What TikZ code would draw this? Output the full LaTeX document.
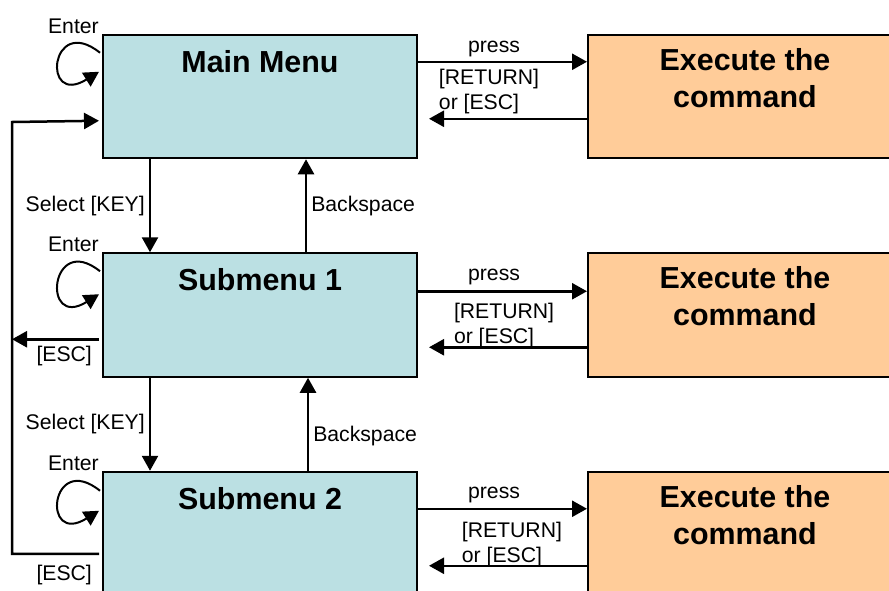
\documentclass[tikz,border=0pt]{standalone}
\usepackage{fontspec}
\setmainfont{Liberation Sans}
\usetikzlibrary{arrows.meta,positioning}
\definecolor{menublue}{RGB}{187,224,227}
\definecolor{cmdorange}{RGB}{255,204,153}
\tikzset{
  menubox/.style = {draw=black, fill=menublue, line width=1pt,
    minimum width=157pt, minimum height=61.75pt, inner sep=0pt},
  cmdbox/.style = {menubox, fill=cmdorange},% command box
  boxtitle/.style = {align=center, inner sep=0pt,
    font=\fontsize{15.2}{18.5}\selectfont\bfseries},
  keylabel/.style = {inner sep=2pt, font=\fontsize{10.6}{12.5}\selectfont},
  retlabel/.style = {keylabel, align=left},
  enterloop/.style = {line width=1pt}
}

\begin{document}
\begin{tikzpicture}[x=0.5pt, y=-0.5pt, ->, >={Triangle[length=7.5pt,width=8pt]},
    line width=1.25pt]
  \useasboundingbox (0,0) rectangle (889,590);
  \clip (0,0) rectangle (889,590);
  % boxes
  \node [menubox] (main) at (260,96.5) {};
  \node [menubox] (sub1) at (260,315) {};
  \node [menubox] (sub2) at (260,533.5) {};
  \node [cmdbox] (exec1) at (745,96.5) {};
  \node [cmdbox] (exec2) at (745,315) {};
  \node [cmdbox] (exec3) at (745,533.5) {};
  \node [boxtitle, below=7.5pt of main.north] (mainT) {Main Menu};
  \node [boxtitle, below=7.5pt of sub1.north] (sub1T) {Submenu 1};
  \node [boxtitle, below=7.5pt of sub2.north] (sub2T) {Submenu 2};
  \node [boxtitle, below=6.5pt of exec1.north] (exec1T) {Execute the\\command};
  \node [boxtitle, below=6.5pt of exec2.north] (exec2T) {Execute the\\command};
  \node [boxtitle, below=6.5pt of exec3.north] (exec3T) {Execute the\\command};
  % Enter loops
  \node [keylabel, inner sep=1pt, anchor=south east] (mainE) at ([yshift=-1.5pt]main.north west) {Enter};
  \node [keylabel, inner sep=1pt, anchor=south east] (sub1E) at ([yshift=-1.5pt]sub1.north west) {Enter};
  \node [keylabel, inner sep=1pt, anchor=south east] (sub2E) at ([yshift=-1.5pt]sub2.north west) {Enter};
  \draw [enterloop] ([shift={(-2,19)}]main.north west) .. controls +(-50,-40) and +(-58,36) .. ([shift={(-3,38)}]main.north west);
  \draw [enterloop] ([shift={(-2,19)}]sub1.north west) .. controls +(-50,-40) and +(-58,36) .. ([shift={(-3,42)}]sub1.north west);
  \draw [enterloop] ([shift={(-2,20)}]sub2.north west) .. controls +(-50,-40) and +(-58,36) .. ([shift={(-3,40)}]sub2.north west);
  % down and up
  \draw ([xshift=24pt]main.south west) -- node[keylabel, left] {Select [KEY]} ([xshift=24pt]sub1.north west);
  \draw ([xshift=102pt]sub1.north west) -- node[keylabel, right] {Backspace} ([xshift=102pt]main.south west);
  \draw ([xshift=24pt]sub1.south west) -- node[keylabel, left, pos=0.5] {Select [KEY]} ([xshift=24pt]sub2.north west);
  \draw ([xshift=103pt]sub2.north west) -- node[keylabel, right, pos=0.37] {Backspace} ([xshift=103pt]sub1.south west);
  % commands
  \draw ([yshift=-14pt]main.north east) -- node[keylabel, above=0pt, pos=0.45] {press} ([yshift=-14pt]exec1.north west);
  \draw ([yshift=-42.5pt]exec1.north west) -- node[retlabel, above=0pt, pos=0.62] {[RETURN]\\or [ESC]} ([shift={(5.5pt,-42.5pt)}]main.north east);
  \draw ([yshift=-19.5pt]sub1.north east) -- node[keylabel, above=0.5pt, pos=0.45] {press} ([yshift=-19.5pt]exec2.north west);
  \draw ([yshift=-47.5pt]exec2.north west) -- node[retlabel, above=-3pt, pos=0.525] {[RETURN]\\or [ESC]} ([shift={(5.5pt,-47.5pt)}]sub1.north east);
  \draw ([yshift=-19pt]sub2.north east) -- node[keylabel, above=0.5pt, pos=0.45] {press} ([yshift=-19pt]exec3.north west);
  \draw ([yshift=-47.5pt]exec3.north west) -- node[retlabel, above=-3pt, pos=0.475] {[RETURN]\\or [ESC]} ([shift={(5.5pt,-47.5pt)}]sub2.north east);
  % ESC back to the main menu
  \coordinate (escTop) at (12,122);
  \coordinate (sub1Esc) at ([shift={(-3,87)}]sub1.north west);
  \draw (sub1Esc) -- node[keylabel, below=1pt, pos=0.4] {[ESC]} (escTop |- sub1Esc);
  \draw ([shift={(-3,83)}]sub2.north west) -| node[keylabel, below=3pt, pos=0.2] {[ESC]} (escTop) -- ([shift={(-3,87)}]main.north west);
\end{tikzpicture}
\end{document}
